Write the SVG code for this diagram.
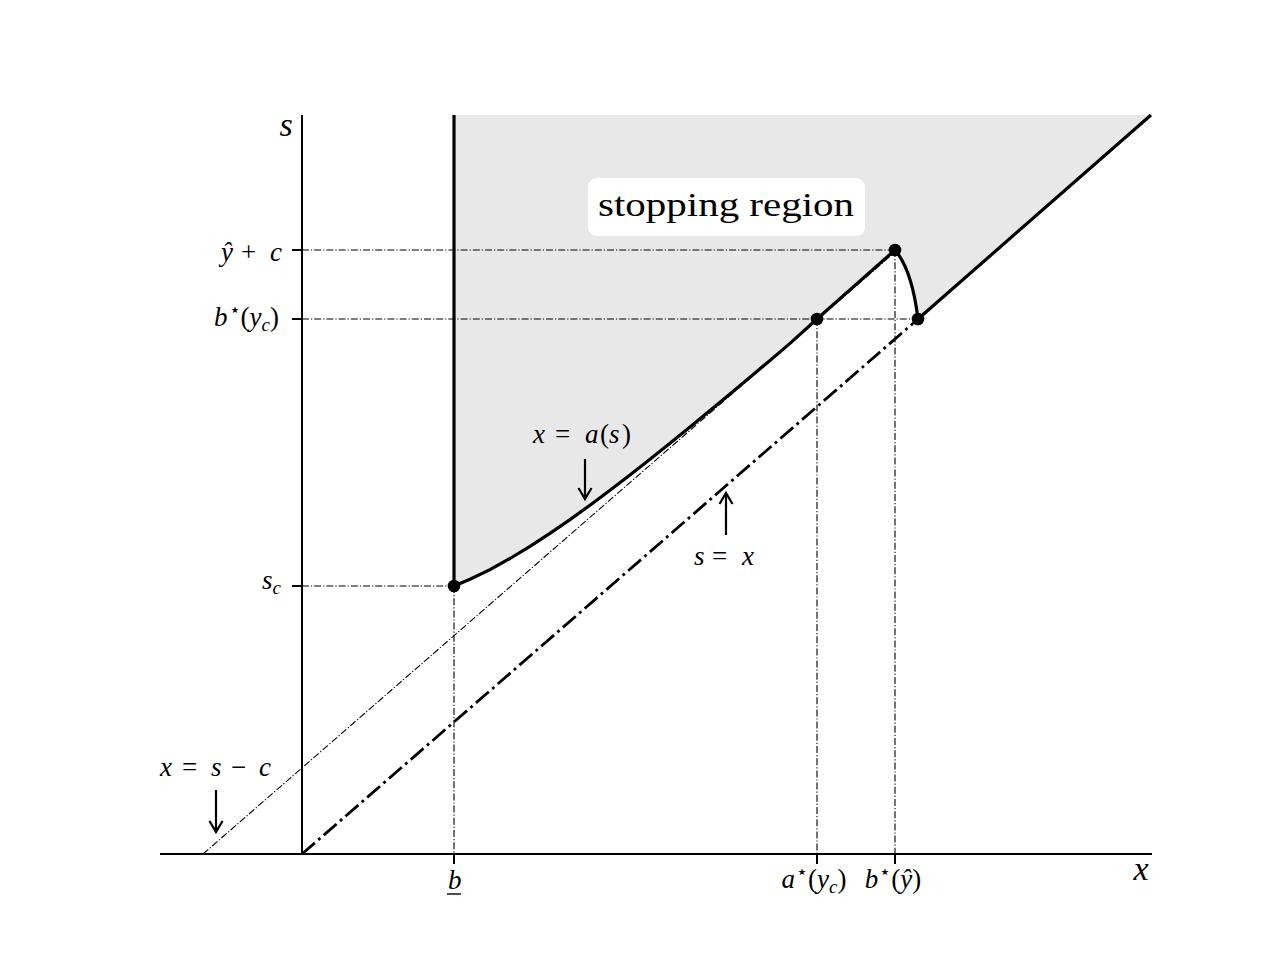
<svg xmlns="http://www.w3.org/2000/svg" width="1280" height="960" viewBox="0 0 1280 960">
<style>
.guide{fill:none;stroke:#000;stroke-width:1.1;stroke-dasharray:7 2 1.2 2}
.thick{fill:none;stroke:#000;stroke-width:3.2;stroke-linejoin:round}
.axis{fill:none;stroke:#000;stroke-width:2}
.tick{stroke:#000;stroke-width:2}
.arrow{fill:none;stroke:#000;stroke-width:2.2}
.dot{fill:#000}
text{font-family:"Liberation Serif","Times New Roman",serif;fill:#000}
.lbl{font-size:27px}
.it{font-style:italic}
.sub{font-size:19px;font-style:italic}
.sup{font-size:19px}
</style>
<rect width="1280" height="960" fill="#fff"/>
<g id="stopping-region">
<path d="M454,115 L454,586 L470,579.3 L490,569.6 L510,558.5 L530,546.4 L550,533.4 L570,519.6 L590,505.2 L610,490.3 L630,474.9 L650,459.2 L670,443.2 L690,427 L710,410.5 L730,393.9 L750,377.2 L770,360.4 L790,343.4 L817,319 L895,250 Q912,270 918,319 L1151,115 Z" fill="#e8e8e8"/>
<rect x="588" y="178" width="277" height="58" rx="9" fill="#fff"/>
<text x="726" y="216" font-size="33" text-anchor="middle" textLength="256" lengthAdjust="spacingAndGlyphs">stopping region</text>
</g>
<g id="connectors">
<path class="guide" d="M302,250 H895 M302,319 H918 M302,586 H454 M454,586 V854 M817,319 V854 M895,250 V854"/>
<path class="guide" d="M203,854 L895,252"/>
<path fill="none" stroke="#000" stroke-width="2.8" stroke-dasharray="17 4.5 2.8 4.5" d="M302,854 L918,319"/>
<path class="thick" d="M454,115 L454,586 L470,579.3 L490,569.6 L510,558.5 L530,546.4 L550,533.4 L570,519.6 L590,505.2 L610,490.3 L630,474.9 L650,459.2 L670,443.2 L690,427 L710,410.5 L730,393.9 L750,377.2 L770,360.4 L790,343.4 L817,319 L895,250 Q912,270 918,319 L1151,115"/>
<path class="arrow" d="M585,459 V499 M578.5,488 L585,499 L591.5,488"/>
<path class="arrow" d="M726,535 V493 M719.5,504 L726,493 L732.5,504"/>
<path class="arrow" d="M216,790 V832 M209.5,821 L216,832 L222.5,821"/>
</g>
<g id="axes">
<path class="axis" d="M160,854 H1152 M302,854 V115"/>
<path class="tick" d="M292,250 H302 M292,319 H302 M292,586 H302 M454,854 V864 M817,854 V864 M895,854 V864"/>
<text x="286" y="136" font-size="34" font-style="italic" text-anchor="middle">s</text>
<text x="1141" y="880" font-size="34" font-style="italic" text-anchor="middle">x</text>
</g>
<g id="p-yhatc"><circle class="dot" cx="895" cy="250" r="6.3"/></g>
<g id="p-bstar"><circle class="dot" cx="918" cy="319" r="6.3"/></g>
<g id="p-astar"><circle class="dot" cx="817" cy="319" r="6.3"/></g>
<g id="p-sc"><circle class="dot" cx="454" cy="586" r="6.3"/></g>
<g id="ylabels" class="lbl">
<text y="261"><tspan x="221" class="it">ŷ</tspan><tspan x="241">+</tspan><tspan x="270" class="it">c</tspan></text>
<text x="279" y="326" text-anchor="end"><tspan class="it">b</tspan><tspan class="sup" dx="1" dy="-10">⋆</tspan><tspan dy="10">(</tspan><tspan class="it">y</tspan><tspan class="sub" dy="5">c</tspan><tspan dy="-5">)</tspan></text>
<text x="281" y="589" text-anchor="end"><tspan class="it">s</tspan><tspan class="sub" dy="5">c</tspan></text>
</g>
<g id="xlabels" class="lbl">
<text x="448" y="889" class="it">b</text>
<line x1="447" y1="894" x2="461" y2="894" stroke="#000" stroke-width="1.4"/>
<text x="814" y="888" text-anchor="middle"><tspan class="it">a</tspan><tspan class="sup" dx="1" dy="-10">⋆</tspan><tspan dy="10">(</tspan><tspan class="it">y</tspan><tspan class="sub" dy="5">c</tspan><tspan dy="-5">)</tspan></text>
<text x="893" y="888" text-anchor="middle"><tspan class="it">b</tspan><tspan class="sup" dx="1" dy="-10">⋆</tspan><tspan dy="10">(</tspan><tspan class="it">ŷ</tspan>)</text>
</g>
<g id="curve-labels" class="lbl">
<text y="443"><tspan x="533" class="it">x</tspan><tspan x="555">=</tspan><tspan x="585" class="it">a</tspan><tspan x="600">(</tspan><tspan x="609" class="it">s</tspan><tspan x="622">)</tspan></text>
<text y="565"><tspan x="694" class="it">s</tspan><tspan x="712">=</tspan><tspan x="742" class="it">x</tspan></text>
<text y="776"><tspan x="160" class="it">x</tspan><tspan x="182">=</tspan><tspan x="211" class="it">s</tspan><tspan x="231">−</tspan><tspan x="259" class="it">c</tspan></text>
</g>
</svg>
